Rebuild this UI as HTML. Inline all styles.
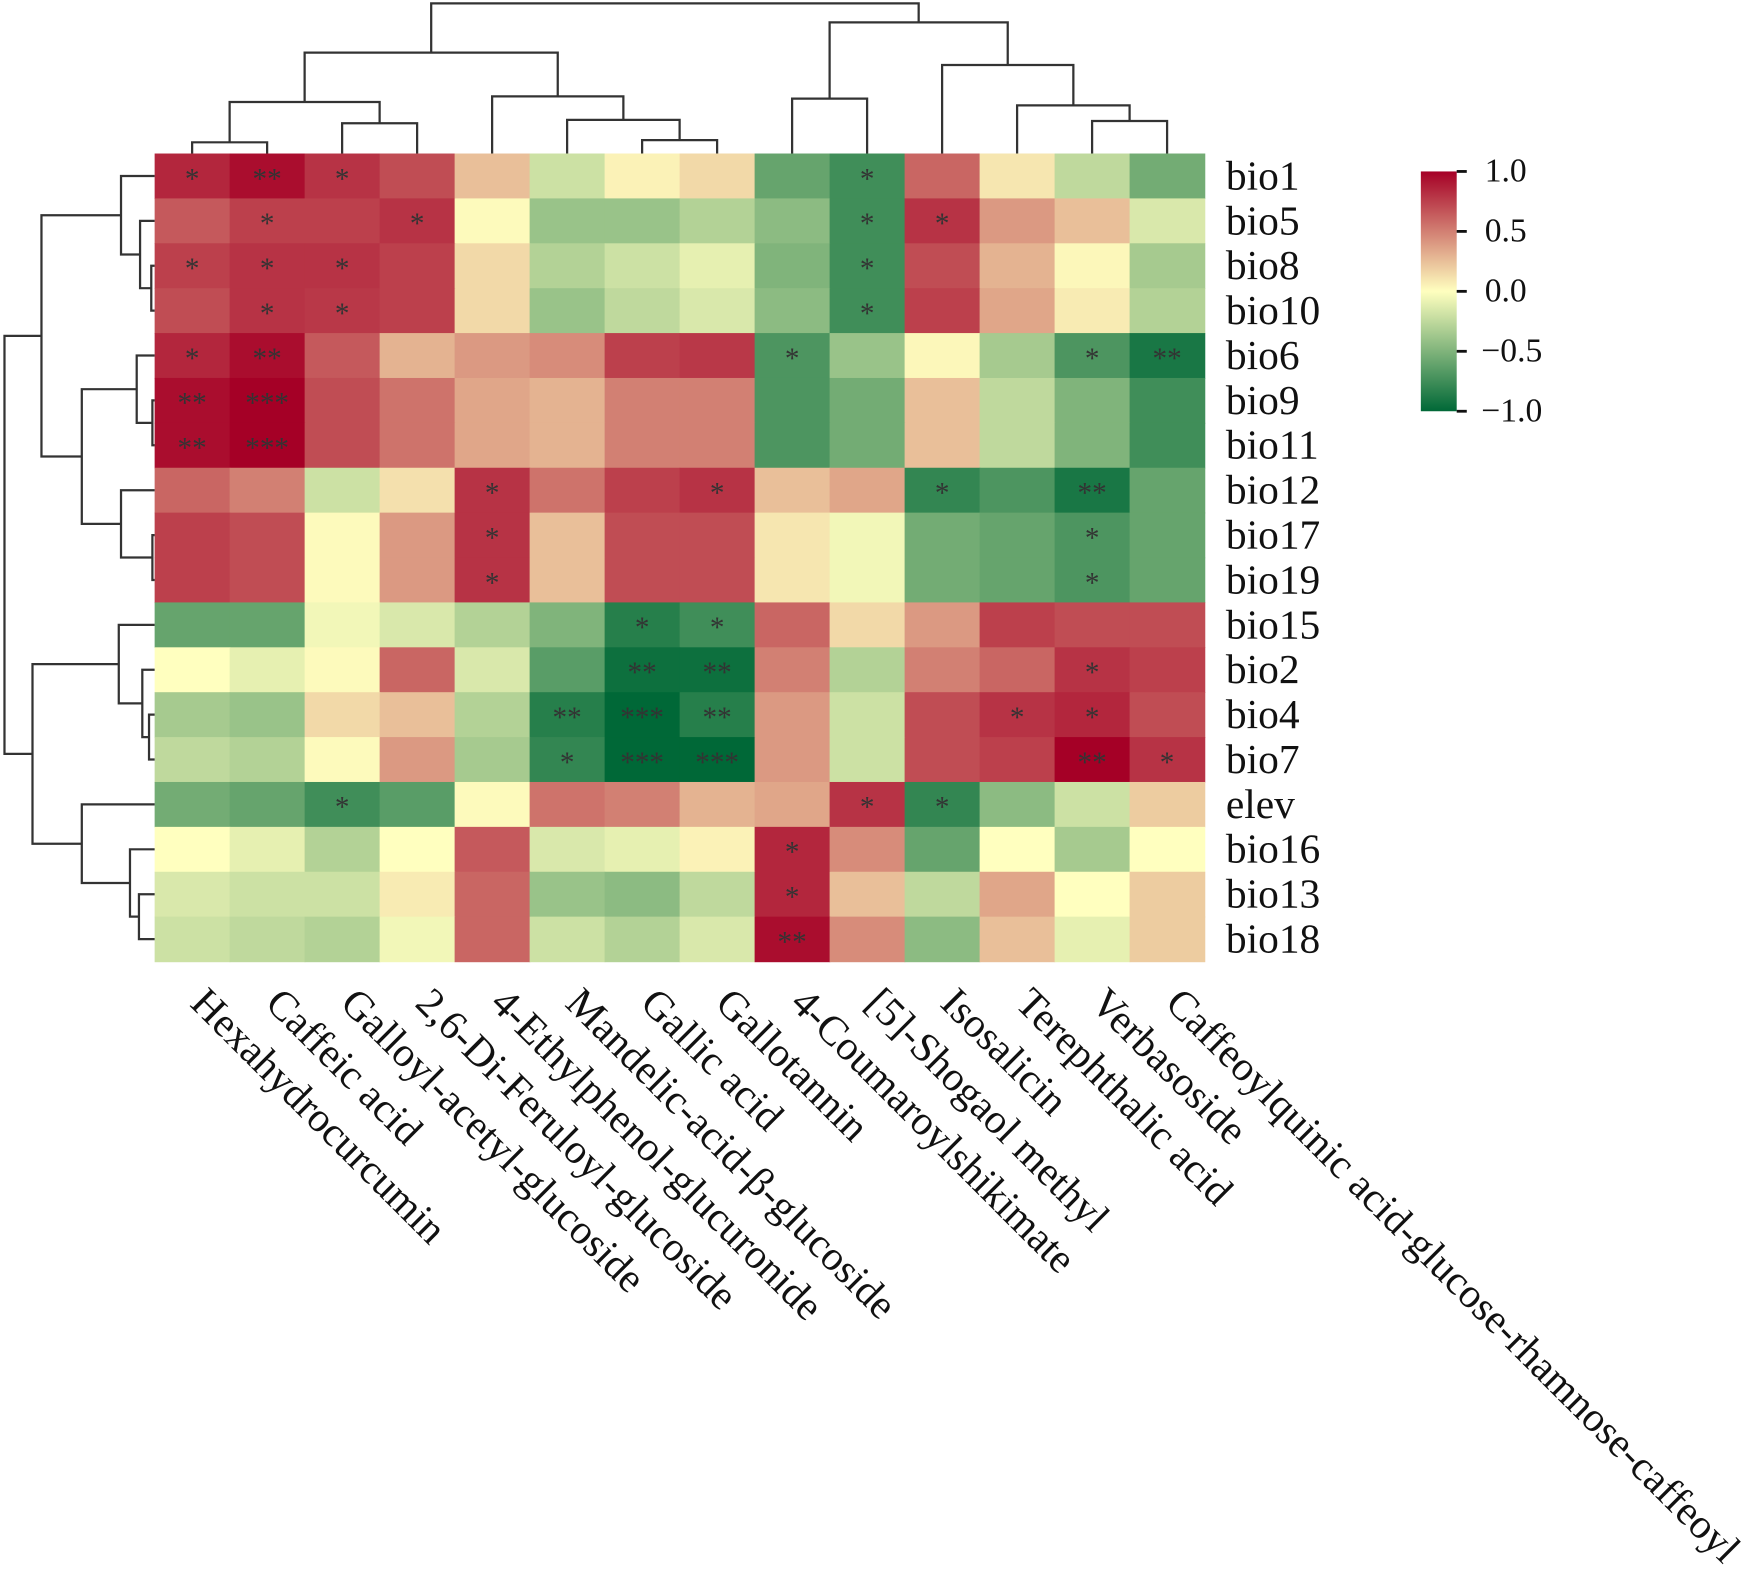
<!DOCTYPE html>
<html><head><meta charset="utf-8"><style>
html,body{margin:0;padding:0;background:#fff;}
svg{display:block;}
text{font-family:"Liberation Serif","DejaVu Serif",serif;fill:#111;}
</style></head><body>
<svg id="chart" width="1757" height="1580" viewBox="0 0 1568 1410" preserveAspectRatio="none" xmlns="http://www.w3.org/2000/svg">
<defs>
<linearGradient id="cbgrad" x1="0" y1="1" x2="0" y2="0">
<stop offset="0" stop-color="rgb(0,104,55)"/><stop offset="0.5" stop-color="rgb(255,255,191)"/><stop offset="1" stop-color="rgb(165,0,38)"/>
</linearGradient>
</defs>
<g id="cells"></g>
<g id="stars"></g>
<g id="dendro" fill="none" stroke="#333" stroke-width="2"></g>
<g id="rowlabels"></g>
<g id="collabels"></g>
<g id="colorbar">
<rect x="1268" y="153" width="32" height="214" fill="url(#cbgrad)"/>
</g>
</svg>
<script>
const rows = ["bio1","bio5","bio8","bio10","bio6","bio9","bio11","bio12","bio17","bio19","bio15","bio2","bio4","bio7","elev","bio16","bio13","bio18"];
const cols = ["Hexahydrocurcumin","Caffeic acid","Galloyl-acetyl-glucoside","2,6-Di-Feruloyl-glucoside","4-Ethylphenol-glucuronide","Mandelic-acid-β-glucoside","Gallic acid","Gallotannin","4-Coumaroylshikimate","[5]-Shogaol methyl","Isosalicin","Terephthalic acid","Verbasoside","Caffeoylquinic acid-glucose-rhamnose-caffeoyl"];
const values = [
[0.85,0.95,0.8,0.7,0.25,-0.2,0.05,0.15,-0.6,-0.75,0.6,0.1,-0.25,-0.55],
[0.65,0.75,0.75,0.8,0.02,-0.4,-0.4,-0.3,-0.45,-0.75,0.8,0.4,0.25,-0.15],
[0.75,0.8,0.8,0.75,0.15,-0.3,-0.2,-0.1,-0.5,-0.75,0.7,0.3,0.03,-0.35],
[0.7,0.8,0.78,0.75,0.15,-0.4,-0.25,-0.15,-0.45,-0.75,0.75,0.35,0.08,-0.3],
[0.85,0.95,0.65,0.3,0.4,0.45,0.75,0.78,-0.7,-0.4,0.03,-0.35,-0.7,-0.9],
[0.95,1.0,0.7,0.55,0.35,0.3,0.5,0.5,-0.7,-0.55,0.25,-0.25,-0.5,-0.75],
[0.95,1.0,0.7,0.55,0.35,0.3,0.5,0.5,-0.7,-0.55,0.25,-0.25,-0.5,-0.75],
[0.6,0.5,-0.2,0.12,0.8,0.55,0.75,0.8,0.25,0.35,-0.8,-0.7,-0.9,-0.6],
[0.75,0.7,0.02,0.4,0.8,0.25,0.7,0.7,0.1,-0.05,-0.55,-0.6,-0.7,-0.6],
[0.75,0.7,0.02,0.4,0.8,0.25,0.7,0.7,0.1,-0.05,-0.55,-0.6,-0.7,-0.6],
[-0.6,-0.6,-0.05,-0.15,-0.3,-0.5,-0.85,-0.75,0.6,0.15,0.4,0.75,0.7,0.7],
[0.0,-0.1,0.02,0.6,-0.15,-0.65,-0.95,-0.95,0.5,-0.3,0.5,0.6,0.8,0.75],
[-0.35,-0.4,0.15,0.25,-0.3,-0.85,-1.0,-0.85,0.4,-0.2,0.7,0.8,0.85,0.7],
[-0.25,-0.3,0.02,0.4,-0.35,-0.8,-1.0,-1.0,0.4,-0.2,0.7,0.75,1.0,0.8],
[-0.55,-0.6,-0.75,-0.65,0.02,0.55,0.5,0.3,0.35,0.8,-0.8,-0.45,-0.2,0.2],
[0.0,-0.1,-0.3,0.0,0.65,-0.15,-0.1,0.05,0.85,0.45,-0.6,0.0,-0.35,0.0],
[-0.15,-0.2,-0.2,0.08,0.6,-0.4,-0.45,-0.25,0.85,0.25,-0.25,0.35,0.0,0.2],
[-0.2,-0.25,-0.3,-0.05,0.6,-0.2,-0.3,-0.15,0.95,0.45,-0.45,0.25,-0.1,0.2]
];
const sigRows = [0,0,0,0, 1,1,1,1, 2,2,2,2, 3,3,3, 4,4,4,4,4, 5,5, 6,6, 7,7,7,7, 8,8, 9,9, 10,10, 11,11,11, 12,12,12,12,12, 13,13,13,13,13, 14,14,14, 15, 16, 17];
const sigCols = [0,1,2,9, 1,3,9,10, 0,1,2,9, 1,2,9, 0,1,8,12,13, 0,1, 0,1, 4,7,10,12, 4,12, 4,12, 6,7, 6,7,12, 5,6,7,11,12, 5,6,7,12,13, 2,9,10, 8, 8, 8];
const sigMarks = ["*","**","*","*", "*","*","*","*", "*","*","*","*", "*","*","*", "*","**","*","*","**", "**","***", "**","***", "*","*","*","**", "*","*", "*","*", "*","*", "**","**","*", "**","***","**","*","*", "*","***","***","**","*", "*","*","*", "*", "*", "**"];
const cbTicks = [1.0,0.5,0.0,-0.5,-1.0];
const cbTickLabels = ["1.0","0.5","0.0","\u22120.5","\u22121.0"];

const X0=138, Y0=137, CW=66.93, RH=40.06;
const xPos = i => X0 + CW*i;
const yPos = i => Y0 + RH*i;
const xc = i => xPos(i)+CW/2;
const yc = i => yPos(i)+RH/2;
const cbY = v => 153 + (1 - v)/2*214;
const NS="http://www.w3.org/2000/svg";
const stops=[[-1,[0,104,55]],[0,[255,255,191]],[1,[165,0,38]]];
function color(v){
  v=Math.max(-1,Math.min(1,v));
  for(let k=0;k<stops.length-1;k++){
    const a=stops[k][0],ca=stops[k][1],b=stops[k+1][0],cb=stops[k+1][1];
    if(v<=b){const t=(v-a)/(b-a);const c=ca.map((x,j)=>Math.round(x+(cb[j]-x)*t));return `rgb(${c[0]},${c[1]},${c[2]})`;}
  }
  return "rgb(165,0,38)";
}
const cellsG=document.getElementById('cells');
values.forEach((row,r)=>row.forEach((v,c)=>{
  const el=document.createElementNS(NS,'rect');
  
  
  el.setAttribute('x',xPos(c));el.setAttribute('y',yPos(r));
  el.setAttribute('width',CW+0.6);el.setAttribute('height',RH+0.6);
  el.setAttribute('fill',color(v));
  cellsG.appendChild(el);
}));
const starsG=document.getElementById('stars');
sigRows.forEach((r,k)=>{
  const el=document.createElementNS(NS,'text');
  
  
  el.setAttribute('x',xc(sigCols[k]));el.setAttribute('y',yc(r)+11);
  el.setAttribute('text-anchor','middle');el.setAttribute('font-size','26');
  el.setAttribute('style','fill:#333');
  el.textContent=sigMarks[k];
  starsG.appendChild(el);
});
const rlG=document.getElementById('rowlabels');
rows.forEach((n,r)=>{
  const el=document.createElementNS(NS,'text');
  
  
  el.setAttribute('x',1094);el.setAttribute('y',yc(r)+12);
  el.setAttribute('font-size','37');
  el.textContent=n;rlG.appendChild(el);
});
const clG=document.getElementById('collabels');
cols.forEach((n,c)=>{
  const el=document.createElementNS(NS,'text');
  
  
  const x=xc(c)-3, y=897;
  el.setAttribute('transform',`translate(${x},${y}) rotate(45)`);
  el.setAttribute('font-size','37');
  el.textContent=n;clG.appendChild(el);
});
const cbG=document.getElementById('colorbar');
cbTicks.forEach((v,k)=>{
  const t=document.createElementNS(NS,'line');
  
  
  t.setAttribute('x1',1300);t.setAttribute('x2',1309);t.setAttribute('y1',cbY(v));t.setAttribute('y2',cbY(v));
  t.setAttribute('stroke','#111');t.setAttribute('stroke-width','2.5');
  cbG.appendChild(t);
  const el=document.createElementNS(NS,'text');
  
  
  el.setAttribute('x',v<0?1322:1325);el.setAttribute('y',cbY(v)+9);
  el.setAttribute('font-size','30');
  el.textContent=cbTickLabels[k];cbG.appendChild(el);
});
{
const dg=document.getElementById('dendro');
function addPath(d,name){const p=document.createElementNS(NS,'path');p.setAttribute('d',d);


dg.appendChild(p);}
function cjoin(x1,b1,x2,b2,h){addPath(`M${x1},${b1}V${h}H${x2}V${b2}`,'column-dendrogram-link');return [(x1+x2)/2,h];}
const B=Y0;
const ca=cjoin(xc(0),B,xc(1),B,127), cb2=cjoin(xc(2),B,xc(3),B,110);
const cg1=cjoin(ca[0],ca[1],cb2[0],cb2[1],91);
const c67=cjoin(xc(6),B,xc(7),B,125);
const c5=cjoin(xc(5),B,c67[0],c67[1],107);
const c4=cjoin(xc(4),B,c5[0],c5[1],86);
const cL=cjoin(cg1[0],cg1[1],c4[0],c4[1],47);
const c89=cjoin(xc(8),B,xc(9),B,88);
const c1213=cjoin(xc(12),B,xc(13),B,108);
const c11=cjoin(xc(11),B,c1213[0],c1213[1],94);
const c10=cjoin(xc(10),B,c11[0],c11[1],58);
const cR=cjoin(c89[0],c89[1],c10[0],c10[1],20);
cjoin(cL[0],cL[1],cR[0],cR[1],3);
function rjoin(y1,r1,y2,r2,x){addPath(`M${r1},${y1}H${x}V${y2}H${r2}`,'row-dendrogram-link');return [(y1+y2)/2,x];}
const E=X0;
const r810=rjoin(yc(2),E,yc(3),E,135);
const r5=rjoin(yc(1),E,r810[0],r810[1],125);
const r1=rjoin(yc(0),E,r5[0],r5[1],108);
const r911=rjoin(yc(5),E,yc(6),E,136);
const r6=rjoin(yc(4),E,r911[0],r911[1],122);
const r1719=rjoin(yc(8),E,yc(9),E,136);
const r12=rjoin(yc(7),E,r1719[0],r1719[1],108);
const rm=rjoin(r6[0],r6[1],r12[0],r12[1],73);
const rTop=rjoin(r1[0],r1[1],rm[0],rm[1],37);
const r47=rjoin(yc(12),E,yc(13),E,133);
const r2=rjoin(yc(11),E,r47[0],r47[1],127);
const r15=rjoin(yc(10),E,r2[0],r2[1],106);
const r1318=rjoin(yc(16),E,yc(17),E,124);
const r16=rjoin(yc(15),E,r1318[0],r1318[1],116);
const rel=rjoin(yc(14),E,r16[0],r16[1],73);
const rBot=rjoin(r15[0],r15[1],rel[0],rel[1],29);
rjoin(rTop[0],rTop[1],rBot[0],rBot[1],4);
}
</script>
</body></html>
